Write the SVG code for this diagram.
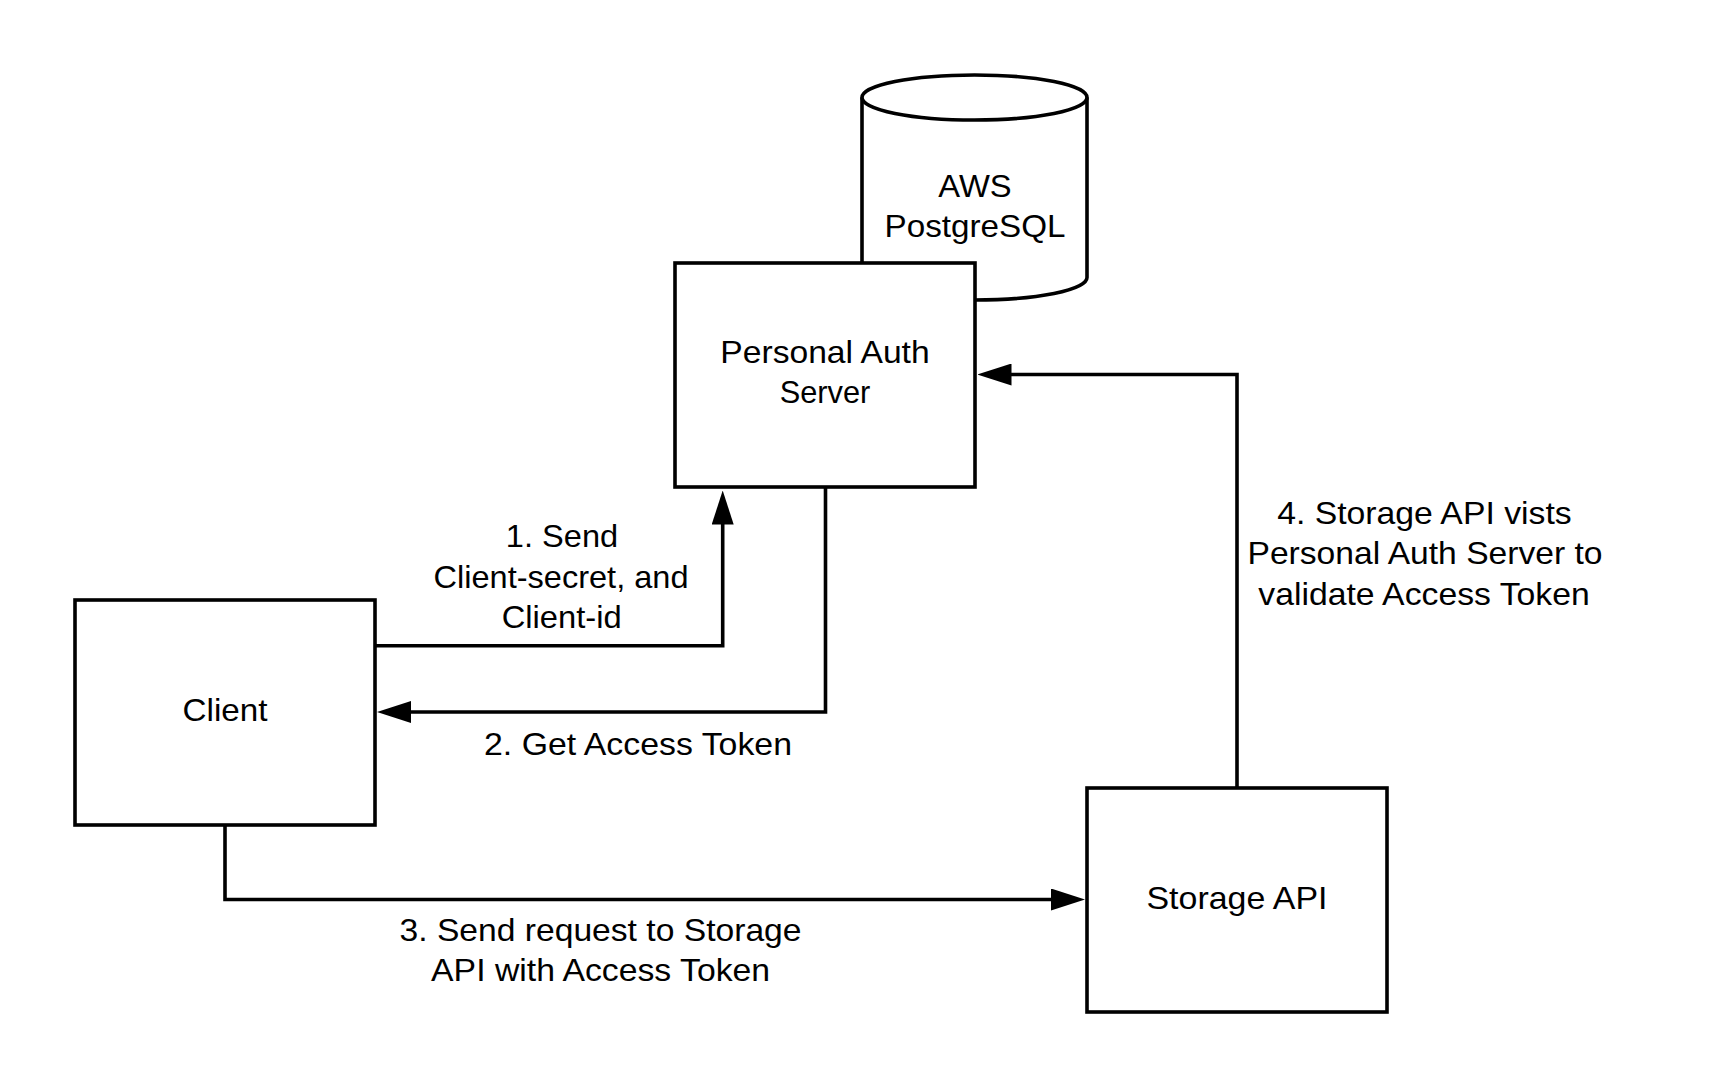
<svg xmlns="http://www.w3.org/2000/svg" width="1725" height="1088" viewBox="0 0 1725 1088">
<style>
.shape{fill:#fff;stroke:#000;stroke-width:3.6}
.conn{fill:none;stroke:#000;stroke-width:3.6}
text{font-family:"Liberation Sans",Arial,sans-serif;font-size:32px;fill:#000;text-anchor:middle}
</style>
<defs>
<marker id="arrow" markerUnits="userSpaceOnUse" viewBox="0 0 34 22" markerWidth="34" markerHeight="22" refX="0.5" refY="11" orient="auto">
<path d="M0,0 L34,11 L0,22 Z" fill="#000"/>
</marker>
</defs>
<rect width="1725" height="1088" fill="#fff"/>
<g id="db">
<path class="shape" d="M862,97.5 A112.5,22.5 0 0 1 1087,97.5 L1087,277.5 A112.5,22.5 0 0 1 862,277.5 Z"/>
<path class="conn" d="M862,97.5 A112.5,22.5 0 0 0 1087,97.5"/>
<text x="975" y="196.7" textLength="73.3" lengthAdjust="spacingAndGlyphs">AWS</text>
<text x="975" y="236.7" textLength="181" lengthAdjust="spacingAndGlyphs">PostgreSQL</text>
</g>
<g id="auth">
<rect class="shape" x="675" y="263" width="300" height="224"/>
<text x="825" y="363.3" textLength="209.3" lengthAdjust="spacingAndGlyphs">Personal Auth</text>
<text x="825" y="403.3" textLength="90.7" lengthAdjust="spacingAndGlyphs">Server</text>
</g>
<g id="client">
<rect class="shape" x="75" y="600" width="300" height="225"/>
<text x="225" y="721" textLength="85" lengthAdjust="spacingAndGlyphs">Client</text>
</g>
<g id="storage">
<rect class="shape" x="1087" y="788" width="300" height="224"/>
<text x="1237" y="908.5" textLength="181" lengthAdjust="spacingAndGlyphs">Storage API</text>
</g>
<g id="connectors">
<path class="conn" d="M375,645.7 H722.7 V524" marker-end="url(#arrow)"/>
<path class="conn" d="M825.5,487 V712 H410.5" marker-end="url(#arrow)"/>
<path class="conn" d="M225,825 V899.5 H1051.5" marker-end="url(#arrow)"/>
<path class="conn" d="M1237,788 V374.5 H1011" marker-end="url(#arrow)"/>
<g id="labels">
<text x="562" y="547.3" textLength="112.3" lengthAdjust="spacingAndGlyphs">1. Send</text>
<text x="561" y="587.7" textLength="255" lengthAdjust="spacingAndGlyphs">Client-secret, and</text>
<text x="561.7" y="628.2" textLength="120" lengthAdjust="spacingAndGlyphs">Client-id</text>
<text x="638" y="755" textLength="308" lengthAdjust="spacingAndGlyphs">2. Get Access Token</text>
<text x="600.5" y="940.7" textLength="402" lengthAdjust="spacingAndGlyphs">3. Send request to Storage</text>
<text x="600.6" y="980.7" textLength="339" lengthAdjust="spacingAndGlyphs">API with Access Token</text>
<text x="1424.4" y="523.5" textLength="294.5" lengthAdjust="spacingAndGlyphs">4. Storage API vists</text>
<text x="1425" y="564" textLength="355" lengthAdjust="spacingAndGlyphs">Personal Auth Server to</text>
<text x="1424" y="604.5" textLength="331.5" lengthAdjust="spacingAndGlyphs">validate Access Token</text>
</g>
</g>
</svg>
